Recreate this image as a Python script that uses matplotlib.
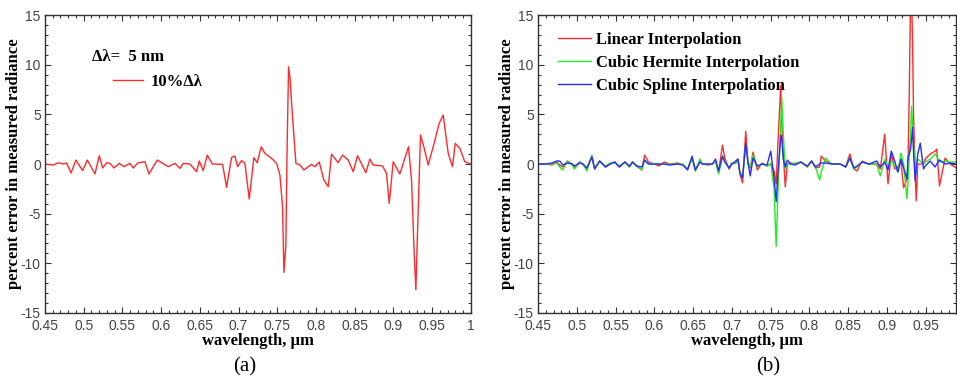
import numpy as np
import matplotlib.pyplot as plt
from matplotlib.ticker import MultipleLocator, FuncFormatter

plt.rcParams['axes.unicode_minus'] = False

# panel (a): 10% delta-lambda error, delta-lambda = 5 nm
wl_a = [0.45, 0.4608, 0.4672, 0.4737, 0.478, 0.4836, 0.49, 0.4986, 0.5047, 0.5146,
        0.5201, 0.5245, 0.5296, 0.5339, 0.5391, 0.546, 0.552, 0.5597, 0.564, 0.5701,
        0.5791, 0.5843, 0.595, 0.6092, 0.6178, 0.6243, 0.6286, 0.6372, 0.6458, 0.6493,
        0.6544, 0.6596, 0.666, 0.6794, 0.6845, 0.691, 0.6953, 0.6988, 0.7039, 0.7082,
        0.7138, 0.7198, 0.7241, 0.7293, 0.734, 0.7426, 0.7491, 0.7534, 0.7568, 0.7586,
        0.7611, 0.7628, 0.7646, 0.7663, 0.7697, 0.7741, 0.7793, 0.7844, 0.7943, 0.7986,
        0.8042, 0.8102, 0.8158, 0.8201, 0.8287, 0.8343, 0.8416, 0.8481, 0.8537, 0.8644,
        0.8696, 0.8739, 0.886, 0.8911, 0.8946, 0.8997, 0.9083, 0.9195, 0.9234, 0.9268,
        0.929, 0.9311, 0.935, 0.9393, 0.9449, 0.9514, 0.9591, 0.9643, 0.9708, 0.9763,
        0.9798, 0.9858, 0.9922, 1.0]
err_a = [0, -0.1, 0.13, 0, 0.1, -0.9, 0.4, -0.67, 0.4, -1.0,
         0.84, -0.4, 0.13, 0.07, -0.4, 0.07, -0.27, 0.07, -0.4, 0.13,
         0.23, -1.0, 0.4, -0.27, 0.07, -0.44, 0.07, 0, -0.77, 0.3,
         -0.67, 0.9, 0, -0.03, -2.35, 0.67, 0.8, -0.27, 0.34, 0.07,
         -3.52, 0.64, 0.13, 1.74, 1.07, 0.57, 0.07, -1.1, -4.29, -10.93,
         -8.15, 2.08, 9.79, 8.78, 4.76, 0.07, -0.1, -0.6, -0.03, -0.27,
         0.2, -1.61, -2.28, 1.0, 0.13, 0.9, 0.4, -0.77, 0.84, -0.87,
         0.5, -0.1, -0.2, -0.94, -3.96, 0.23, -1.0, 1.74, -1.61, -8.98,
         -12.67, -6.97, 2.92, 1.74, -0.1, 1.74, 4.09, 4.93, 1.07, -0.27,
         2.08, 1.58, 0.23, 0]

# panel (b): interpolation methods
wl_b = [0.45, 0.46, 0.468, 0.474, 0.478, 0.482, 0.488, 0.494, 0.497, 0.504,
        0.508, 0.513, 0.5195, 0.523, 0.5295, 0.537, 0.543, 0.549, 0.555, 0.562,
        0.568, 0.572, 0.577, 0.584, 0.5875, 0.5925, 0.6, 0.606, 0.613, 0.62,
        0.63, 0.637, 0.643, 0.6488, 0.653, 0.659, 0.662, 0.67, 0.675, 0.679,
        0.683, 0.688, 0.691, 0.6965, 0.7, 0.705, 0.708, 0.7105, 0.7139, 0.718,
        0.721, 0.7238, 0.7275, 0.733, 0.739, 0.7455, 0.7503, 0.7546, 0.7573, 0.7595,
        0.7632, 0.7645, 0.7665, 0.769, 0.7717, 0.776, 0.782, 0.789, 0.7975, 0.803,
        0.808, 0.8134, 0.8155, 0.821, 0.829, 0.84, 0.847, 0.8523, 0.8575, 0.8617,
        0.8681, 0.877, 0.887, 0.8917, 0.8973, 0.9016, 0.9059, 0.9102, 0.9144, 0.9183,
        0.9217, 0.926, 0.9273, 0.929, 0.9307, 0.932, 0.9333, 0.9346, 0.9367, 0.938,
        0.94, 0.9432, 0.9474, 0.9496, 0.956, 0.9624, 0.9645, 0.968, 0.9753, 0.9817,
        0.99]
linear = [0, 0, -0.1, 0.2, -0.1, -0.3, 0.3, 0, -0.3, 0.2,
          0, -0.5, 0.8, -0.5, 0.3, -0.3, 0, 0.2, -0.3, 0.2,
          -0.3, 0.2, -0.2, -0.6, 0.9, 0.2, 0, -0.2, 0.2, 0,
          0.1, -0.1, -0.5, 0.6, -0.6, 0.3, 0, -0.1, 0, 0.3,
          -0.8, 1.9, 0.6, -0.5, 0, 0.1, 0.5, -1.0, -1.9, 3.3,
          0, -0.4, 1.2, -0.6, 0.1, -0.2, 0, -0.7, -2.0, 2.0,
          7.9, 4.0, 1.0, -2.3, 0, 0.1, 0, 0.2, -0.3, 0.3,
          -0.4, -0.3, 0.8, 0.3, 0, 0, -0.3, 1.0, -0.5, -0.7,
          0.3, 0, 0, -0.5, 3.0, -2.0, 1.0, -0.5, -0.3, 0.3,
          -2.4, -1.5, -0.5, 7.0, 17.0, 17.0, 12.0, 4.7, -1.0, -3.7,
          0, 0, 0, 0.5, 1.0, 1.3, 1.5, -2.2, 0.6, 0,
          -0.4]
hermite = [0, 0, 0, 0.1, -0.3, -0.6, 0.3, -0.1, -0.5, 0.2,
           0, -0.7, 0.9, -0.4, 0.3, -0.2, 0.1, 0.1, -0.2, 0.2,
           -0.3, 0.2, -0.1, -0.6, 0.4, 0, 0, 0, 0, 0,
           0, 0, -0.5, 0.6, -0.7, 0.5, 0, 0, 0, 0.3,
           -1.0, 0.7, 0.3, -0.4, 0.1, 0.1, 0.3, -0.8, -1.4, 2.0,
           0.2, -0.3, 0.9, -0.3, 0, -0.2, 0.1, -2.5, -8.3, -3.0,
           4.0, 6.7, 3.0, -0.5, 0, 0, 0.1, 0.2, -0.3, 0.3,
           -0.3, -1.6, -0.8, 0.6, 0, 0, -0.3, 0.6, -0.5, -0.3,
           0.2, 0, 0, -1.2, 0.5, -0.3, 0.3, -0.2, -0.8, 1.1,
           0, -3.5, -2.0, 1.0, 3.0, 5.8, 4.0, 2.0, 0, -1.0,
           0.5, 0.3, 0, 0.2, 0.5, 1.0, 0.8, 0.2, 0.3, 0.2,
           0.2]
spline = [0, 0, 0.1, 0.3, 0.3, -0.1, 0.1, 0, -0.2, 0.1,
          0, -0.4, 0.7, -0.5, 0.3, -0.3, 0, 0.2, -0.3, 0.2,
          -0.2, 0.2, -0.2, -0.3, 0.4, 0, 0, 0, 0, -0.1,
          0, -0.1, -0.6, 0.8, -0.6, 0.2, 0, 0, 0, 0.5,
          -0.7, 0.8, 0.2, -0.4, 0, 0.3, 0.5, -0.9, -1.4, 2.1,
          0.1, -1.2, 0.6, -0.2, 0, -0.1, 1.3, -1.5, -3.8, -1.0,
          2.9, 2.5, 0.5, -0.3, 0.4, 0, -0.1, 0.2, -0.2, 0.3,
          -0.3, 0, 0.1, 0.1, 0, 0, -0.3, 0.6, -0.4, -0.2,
          0.2, 0, 0.3, -0.3, 0.2, -0.6, 1.3, 0.3, -0.8, 0.5,
          -0.4, -1.5, 0.6, 1.0, 1.5, 2.5, 3.7, 1.0, -1.7, -0.5,
          1.0, 2.1, -0.5, -0.2, 0.3, -0.3, 0, 0.4, 0, 0.1,
          0]

serif = 'Liberation Serif'
sans = 'Liberation Sans'

fig = plt.figure(figsize=(9.57, 3.81), dpi=100)
ax1 = fig.add_axes([0.047, 0.1785, 0.445, 0.782])
ax2 = fig.add_axes([0.5622, 0.1785, 0.4365, 0.782])


def style(ax, xmax):
    ax.set_xlim(0.45, xmax)
    ax.set_ylim(-15, 15)
    ax.xaxis.set_major_locator(MultipleLocator(0.05))
    ax.xaxis.set_minor_locator(MultipleLocator(0.01))
    ax.yaxis.set_major_locator(MultipleLocator(5))
    ax.yaxis.set_minor_locator(MultipleLocator(1))
    ax.xaxis.set_major_formatter(FuncFormatter(lambda v, p: '%g' % round(v, 3)))
    ax.yaxis.set_major_formatter(FuncFormatter(lambda v, p: '%g' % v))
    ax.tick_params(which='both', direction='in', top=True, right=True,
                   colors='#333333', width=0.8)
    ax.tick_params(which='major', length=4, pad=3, labelsize=10)
    ax.tick_params(axis='x', which='major', pad=4.5)
    ax.tick_params(which='minor', length=2)
    for lab in ax.get_xticklabels() + ax.get_yticklabels():
        lab.set_family(sans)
        lab.set_color('#444444')
    for s in ax.spines.values():
        s.set_color('#333333')
        s.set_linewidth(1.0)
    ax.set_xlabel('wavelength, \u03bcm', family=serif, fontweight='bold',
                  fontsize=12, labelpad=0)
    ax.set_ylabel('percent error in measured radiance', family=serif,
                  fontweight='bold', fontsize=12, labelpad=-1)


ax1.plot(wl_a, err_a, color='#ff2a2a', lw=1.0, label='10%\u0394\u03bb')
style(ax1, 1.0)
ax1.text(0.11, 0.86, '\u0394\u03bb=  5 nm', transform=ax1.transAxes,
         family=serif, fontweight='bold', fontsize=12, va='center')
ax1.legend(loc='center left', bbox_to_anchor=(0.16, 0.775), frameon=False,
           borderpad=0, borderaxespad=0, handlelength=1.8, handletextpad=0.45,
           prop={'family': serif, 'weight': 'bold', 'size': 12})

ax2.plot(wl_b, linear, color='#ff2a2a', lw=1.0, label='Linear Interpolation')
ax2.plot(wl_b, hermite, color='#22ee22', lw=1.0, label='Cubic Hermite Interpolation')
ax2.plot(wl_b, spline, color='#2a2aff', lw=1.0, label='Cubic Spline Interpolation')
style(ax2, 0.989)
ax2.legend(loc='upper left', bbox_to_anchor=(0.048, 0.944), frameon=False,
           borderpad=0, borderaxespad=0, handlelength=2.0, handletextpad=0.3,
           labelspacing=0.42,
           prop={'family': serif, 'weight': 'bold', 'size': 12})

fig.text(245 / 957, 1 - 367 / 381, '(a)', family=serif, fontsize=15,
         ha='center', va='center')
fig.text(768 / 957, 1 - 367 / 381, '(b)', family=serif, fontsize=15,
         ha='center', va='center')

fig.savefig('out.png', dpi=100)
